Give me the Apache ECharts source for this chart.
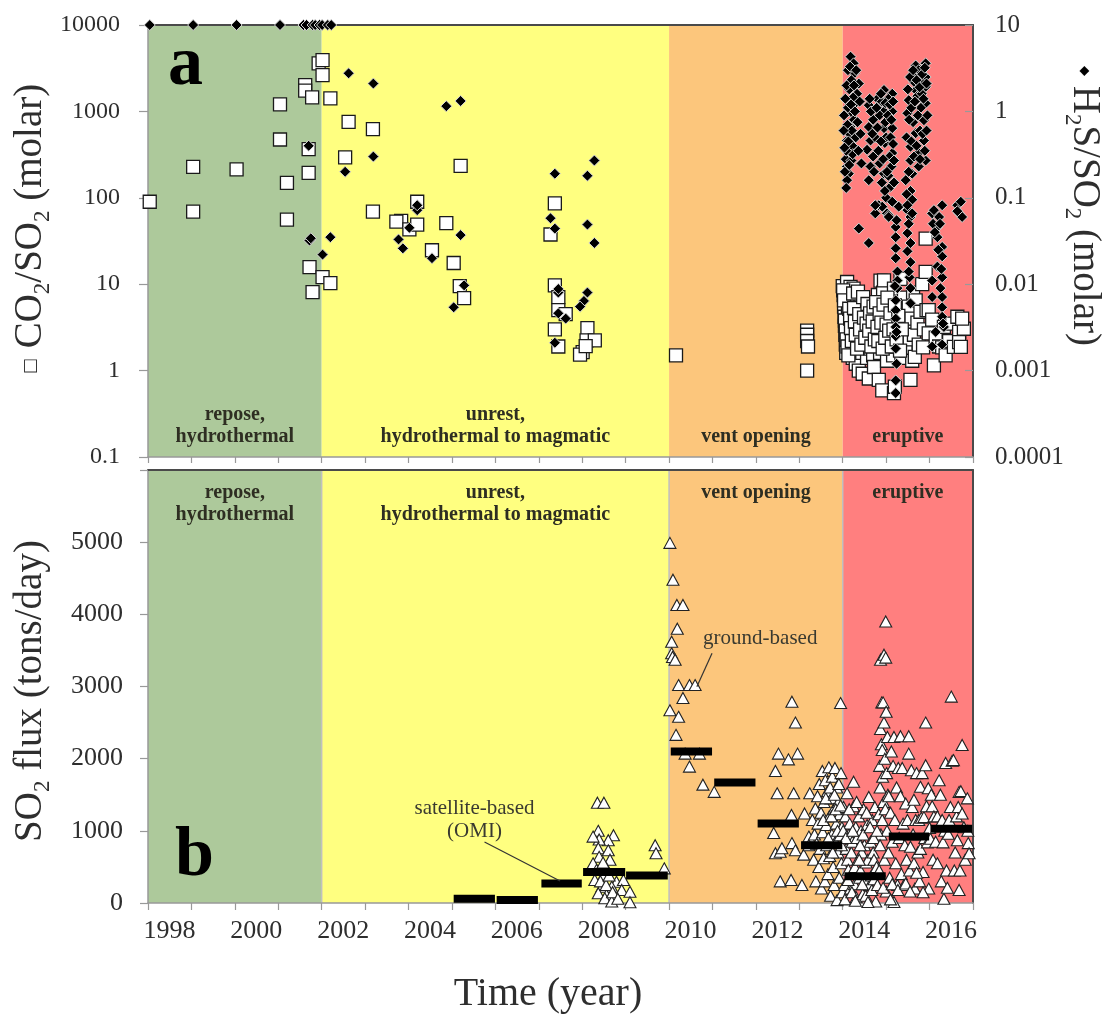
<!DOCTYPE html>
<html><head><meta charset="utf-8">
<script src="https://cdn.jsdelivr.net/npm/echarts/dist/echarts.min.js"></script>
<style>html,body{margin:0;padding:0;background:#fff}#c{width:1110px;height:1015px}</style>
</head><body><div id="c"></div>
<script>
// ---------------- DATA ----------------
const phaseStart = [1998, 2002, 2010, 2014];
const phaseEnd   = [2002, 2010, 2014, 2017];
const phaseNames = ['repose,\nhydrothermal', 'unrest,\nhydrothermal to magmatic', 'vent opening', 'eruptive'];

const yearTicks = [1998, 2000, 2002, 2004, 2006, 2008, 2010, 2012, 2014, 2016];

// CO2/SO2 (molar), squares, left log axis
const co2so2 = [
 [1998.04,90],[1999.04,228],[1999.04,69],[2000.04,213],[2001.04,1205],[2001.04,473],[2001.20,149],[2001.20,56],
 [2001.62,2018],[2001.62,1735],[2001.78,1452],[2001.70,366],[2001.70,194],[2001.72,15.8],[2001.79,8.1],
 [2001.93,3600],[2002.02,3930],[2002.02,2630],[2002.02,12.1],[2002.20,10.3],[2002.20,1413],[2002.62,757],[2002.54,293],
 [2003.18,623],[2003.18,69],[2005.20,234],[2004.20,90],[2003.83,54],[2003.72,53],[2004.02,43],[2004.20,49],[2004.87,51],
 [2004.54,24.7],[2005.04,17.6],[2005.18,9.5],[2005.28,6.9],[2007.37,86],[2007.27,37.6],[2007.37,9.7],[2007.45,7.1],
 [2007.45,5.0],[2007.62,4.5],[2007.37,3.0],[2007.45,1.9],[2008.12,3.1],[2008.10,2.24],[2008.29,2.24],[2008.01,1.64],
 [2007.95,1.53],[2008.08,1.92],[2010.16,1.5],[2013.18,2.9],[2013.18,2.6],[2013.18,2.2],[2013.20,1.9],[2013.18,1.0],
 [2014.00,9.5],[2014.02,7.5],[2014.03,5.5],[2014.04,4.2],[2014.05,3.3],[2014.06,2.6],[2014.07,2.0],[2014.08,1.6],
 [2014.10,10.6],[2014.11,6.8],[2014.12,4.8],[2014.13,3.6],[2014.14,2.8],[2014.15,2.2],[2014.16,1.7],[2014.18,9.3],
 [2014.19,5.9],[2014.20,3.9],[2014.21,2.5],[2014.22,1.9],[2014.23,1.4],[2014.25,8.9],[2014.26,6.2],[2014.27,4.4],
 [2014.28,3.0],[2014.29,2.1],[2014.30,1.2],[2014.32,7.0],[2014.33,5.0],[2014.34,3.4],[2014.35,2.4],[2014.36,1.7],
 [2014.37,1.0],[2014.41,6.5],[2014.42,4.6],[2014.43,3.2],[2014.44,2.3],[2014.45,1.6],[2014.46,0.92],[2014.50,5.6],
 [2014.51,3.8],[2014.52,2.7],[2014.53,1.9],[2014.56,1.4],[2014.58,4.8],[2014.60,2.3],[2014.60,0.81],[2014.62,3.3],
 [2014.64,1.8],[2014.66,6.0],[2014.68,2.6],[2014.70,1.5],[2014.72,1.1],[2014.73,4.0],[2014.75,4.2],[2014.77,2.9],
 [2014.79,2.0],[2014.81,7.5],[2014.83,0.78],[2014.84,3.5],[2014.86,1.6],[2014.87,11],[2014.88,5.2],[2014.90,2.4],
 [2014.91,0.59],[2014.93,8.0],[2014.95,11.1],[2014.95,2.0],[2014.97,3.0],[2015.00,4.5],[2015.02,1.3],[2015.04,2.6],
 [2015.06,6.5],[2015.08,1.8],[2015.12,3.8],[2015.14,2.2],[2015.16,1.5],[2015.18,8.9],[2015.18,0.55],[2015.20,0.65],
 [2015.21,4.8],[2015.23,2.7],[2015.25,1.9],[2015.27,6.0],[2015.29,3.3],[2015.31,2.1],[2015.33,11.5],[2015.35,1.4],
 [2015.37,4.2],[2015.39,2.5],[2015.41,7.0],[2015.43,3.2],[2015.45,1.7],[2015.49,3.2],[2015.52,5.5],[2015.54,2.3],
 [2015.56,0.78],[2015.58,4.0],[2015.60,1.3],[2015.62,8.0],[2015.64,2.6],[2015.66,1.44],[2015.68,6.5],[2015.72,3.6],
 [2015.75,2.0],[2015.79,4.8],[2015.83,10.0],[2015.85,1.86],[2015.87,3.0],[2015.91,13.9],[2015.91,33.7],[2015.93,5.0],
 [2015.98,2.7],[2015.98,5.0],[2016.06,3.9],[2016.10,1.15],[2016.14,2.4],[2016.22,1.9],[2016.29,1.86],[2016.33,3.2],
 [2016.37,1.5],[2016.45,2.2],[2016.52,3.5],[2016.56,1.88],[2016.64,4.2],[2016.68,2.8],[2016.68,2.14],[2016.72,1.88],
 [2016.79,3.05],[2016.75,4.0],
 [2014.01,8.5],[2014.03,6.5],[2014.05,3.8],[2014.07,2.9],[2014.09,2.3],[2014.11,1.9],[2014.13,1.5],[2014.15,5.2],
 [2014.17,4.0],[2014.19,3.1],[2014.21,2.2],[2014.24,7.8],[2014.26,5.3],[2014.28,3.7],[2014.30,2.6],[2014.33,1.8],
 [2014.35,8.2],[2014.38,4.5],[2014.40,3.0],[2014.43,2.0],[2014.47,7.1],[2014.49,4.1],[2014.52,2.4],[2014.55,3.5],
 [2014.57,5.9],[2014.61,2.9],[2014.63,4.6],[2014.66,1.9],[2014.69,3.7],[2014.71,5.5],[2014.74,2.3],[2014.77,6.2],
 [2014.80,3.2],[2014.82,2.2],[2014.85,4.6],[2014.89,3.6],[2014.92,1.8],[2014.94,5.8],[2014.98,2.4],[2015.01,3.4],
 [2015.03,7.0],[2015.07,2.9],[2015.10,4.6],[2015.13,1.9],[2015.17,3.0],[2015.20,5.7],[2015.24,2.3],[2015.28,4.3],
 [2015.32,1.7],[2015.36,3.0]
];

// H2S/SO2 (molar), diamonds, right log axis
const h2sso2 = [
 [1998.04,10],[1999.04,10],[2000.04,10],[2001.04,10],[2001.58,10],[2001.65,10],[2001.79,10],[2001.85,10],[2001.95,10],
 [2002.01,10],[2002.14,10],[2002.22,10],
 [2001.70,0.40],[2001.72,0.032],[2001.75,0.034],[2002.02,0.022],[2002.20,0.035],[2002.62,2.76],[2002.54,0.20],
 [2003.19,2.1],[2003.19,0.30],[2004.87,1.15],[2005.20,1.32],[2004.20,0.072],[2004.20,0.082],[2004.02,0.045],
 [2003.77,0.033],[2003.87,0.026],[2004.54,0.020],[2005.20,0.037],[2005.28,0.0097],[2005.04,0.0054],[2007.37,0.19],
 [2008.12,0.18],[2008.28,0.27],[2007.27,0.058],[2007.37,0.044],[2008.12,0.049],[2008.28,0.030],[2007.45,0.008],
 [2007.45,0.0088],[2007.45,0.0046],[2007.62,0.004],[2007.37,0.0021],[2008.12,0.008],[2008.04,0.0064],[2007.95,0.0055],
 [2014.18,4.3],[2014.25,3.6],[2014.27,2.76],[2014.37,2.1],[2014.33,1.6],[2014.29,1.24],[2014.22,0.95],[2014.18,0.66],
 [2014.10,0.46],[2014.14,0.33],[2014.10,0.23],[2014.14,0.19],[2014.10,0.16],[2014.12,3.0],[2014.20,2.3],[2014.15,1.8],
 [2014.24,1.45],[2014.12,1.1],[2014.26,0.8],[2014.16,0.55],[2014.22,0.4],[2014.07,0.28],[2014.20,0.27],[2014.05,0.2],
 [2014.08,0.13],[2014.37,0.044],[2014.60,0.030],
 [2014.60,1.18],[2014.95,1.77],[2015.14,1.6],[2014.95,1.0],[2015.14,1.0],[2014.95,0.64],[2015.14,0.64],[2014.97,0.43],
 [2015.14,0.33],[2015.12,0.23],[2014.95,0.19],[2015.10,0.134],[2015.00,0.10],[2014.83,0.082],[2015.02,0.066],
 [2014.75,0.066],[2014.60,0.66],[2014.64,0.46],[2014.56,0.36],[2014.64,0.23],[2014.60,0.16],[2014.91,0.079],
 [2015.06,0.063],[2014.75,0.082],[2015.06,0.060],[2015.29,0.079],[2014.80,1.4],[2014.85,0.9],[2014.90,1.3],
 [2015.05,1.4],[2015.00,0.5],[2015.08,0.3],[2014.70,0.8],[2014.75,0.5],[2014.70,0.3],[2014.85,0.25],[2014.90,0.15],
 [2015.05,0.18],[2014.65,1.0],
 [2015.22,0.046],[2015.22,0.035],[2015.22,0.026],[2015.22,0.020],[2015.26,0.014],[2015.26,0.011],[2015.26,0.009],
 [2015.22,0.0065],[2015.22,0.005],[2015.22,0.004],[2015.22,0.0032],[2015.22,0.0025],[2015.22,0.0018],[2015.24,0.0012],
 [2015.22,0.00077],[2015.22,0.00055],
 [2015.68,3.4],[2015.91,3.6],[2015.68,2.75],[2015.91,2.5],[2015.68,1.77],[2015.91,1.93],[2015.52,1.35],[2015.91,1.24],
 [2015.49,0.95],[2015.87,0.79],[2015.68,0.56],[2015.87,0.46],[2015.56,0.39],[2015.75,0.33],[2015.56,0.27],[2015.75,0.23],
 [2015.91,0.27],[2015.60,0.19],[2015.45,0.16],[2015.56,0.12],[2015.60,0.095],[2015.49,0.072],[2015.56,0.060],
 [2015.75,3.0],[2015.80,2.2],[2015.72,1.5],[2015.80,1.1],[2015.62,0.75],[2015.78,0.6],[2015.82,1.6],[2015.64,2.2],
 [2015.49,0.082],[2015.60,0.066],[2015.49,0.039],[2015.56,0.030],[2015.49,0.024],[2015.56,0.018],[2015.56,0.006],
 [2016.06,0.066],[2016.18,0.046],[2016.18,0.035],[2016.29,0.027],[2016.29,0.021],[2016.18,0.016],[2016.29,0.012],
 [2016.06,0.011],[2016.06,0.0071],[2016.29,0.0071],[2016.29,0.0054],[2016.29,0.0042],[2016.33,0.0032],[2016.06,0.0019],
 [2016.29,0.0020],[2016.29,0.082],[2016.10,0.072],[2016.22,0.06],[2016.14,0.0028],
 [2016.64,0.082],[2016.68,0.066],[2016.72,0.09],[2016.75,0.06],[2016.64,0.07],
 [2014.03,0.9],[2014.06,1.4],[2014.09,2.0],[2014.11,0.7],[2014.13,0.45],[2014.17,3.3],[2014.19,1.2],[2014.21,0.6],
 [2014.23,0.32],[2014.26,2.0],[2014.28,1.0],[2014.30,0.5],[2014.31,3.0],[2014.34,0.75],[2014.36,0.35],[2014.39,1.3],
 [2014.41,0.55],[2014.43,0.25],[2014.08,0.35],[2014.15,0.24],[2014.02,0.6],[2014.04,0.38],
 [2014.62,1.4],[2014.68,0.55],[2014.72,0.2],[2014.78,1.1],[2014.80,0.65],[2014.82,0.35],[2014.88,1.6],[2014.88,0.45],
 [2014.93,0.28],[2014.98,1.25],[2014.98,0.75],[2015.02,0.2],[2015.04,0.9],[2015.08,1.2],[2015.10,0.5],[2015.12,0.8],
 [2015.16,1.3],[2015.16,0.42],[2015.18,0.27],[2015.18,0.15],[2014.97,0.12],[2015.14,0.09],
 [2015.47,0.5],[2015.50,1.8],[2015.53,0.8],[2015.55,2.5],[2015.58,1.1],[2015.58,0.45],[2015.62,3.0],[2015.64,0.3],
 [2015.66,1.3],[2015.70,2.3],[2015.70,0.4],[2015.73,0.9],[2015.77,1.9],[2015.78,0.28],[2015.83,2.7],[2015.84,0.55],
 [2015.86,1.4],[2015.89,3.2],[2015.89,0.35],[2015.93,0.6],[2015.93,2.1],[2015.95,0.9],[2015.52,0.2],[2015.47,0.11],
 [2015.52,0.05],[2015.54,0.012],[2015.56,0.009],[2015.52,0.014],[2016.08,0.05],[2016.20,0.025],[2016.25,0.009],
 [2016.31,0.0035],[2016.27,0.015],[2016.12,0.04],[2016.24,0.05],[2015.24,0.0028],[2015.20,0.0095],[2015.24,0.055]
];

// SO2 flux, ground-based (tons/day), triangles
const so2Ground = [
 [2008.35,1390],[2008.50,1390],[2008.37,1000],[2008.72,940],[2008.60,870],[2008.39,880],[2008.25,920],[2008.37,760],
 [2008.60,730],[2008.39,640],[2008.64,600],[2008.25,550],[2008.56,480],[2008.33,460],[2008.49,390],[2008.29,320],
 [2008.79,295],[2008.95,320],[2008.45,225],[2008.68,225],[2008.91,180],[2009.10,155],[2008.37,135],[2008.56,110],
 [2008.52,65],[2008.75,90],[2008.68,20],[2009.10,10],[2008.42,300],[2008.48,560],[2008.55,250],[2008.62,380],
 [2008.70,150],[2008.82,60],[2009.68,800],[2009.70,690],[2009.89,480],
 [2010.02,4990],[2010.09,4480],[2010.18,4130],[2010.32,4130],[2010.19,3800],[2010.06,3620],[2010.06,3460],
 [2010.08,3410],[2010.14,3370],[2010.22,3020],[2010.47,3020],[2010.60,3020],[2010.32,2840],[2010.02,2670],
 [2010.22,2580],[2010.16,2330],[2010.37,2070],[2010.70,2070],[2010.47,1890],[2010.78,1640],[2011.04,1540],
 [2012.83,2790],[2013.95,2770],[2012.91,2500],[2012.52,2070],[2012.96,2070],[2012.75,1990],[2012.45,1830],
 [2012.49,1520],[2012.87,1520],[2013.24,1520],[2012.41,970],[2012.82,1220],[2013.12,1240],[2012.45,690],
 [2012.83,830],[2012.56,710],[2012.91,730],[2013.22,920],[2013.10,670],[2012.56,300],[2012.81,320],[2013.06,250],
 [2012.60,760],[2013.22,800],
 [2013.30,1150],[2013.33,600],[2013.35,950],[2013.37,1310],[2013.38,300],[2013.40,820],[2013.42,1480],[2013.43,1100],
 [2013.45,500],[2013.46,1650],[2013.48,750],[2013.50,1250],[2013.51,200],[2013.53,1830],[2013.54,980],[2013.56,620],
 [2013.57,1400],[2013.59,300],[2013.60,1700],[2013.62,1080],[2013.63,800],[2013.65,1550],[2013.66,400],[2013.68,1880],
 [2013.69,1200],[2013.70,650],[2013.72,100],[2013.73,1450],[2013.75,950],[2013.76,1750],[2013.78,500],[2013.79,1300],
 [2013.80,250],[2013.82,1870],[2013.83,850],[2013.85,1100],[2013.86,1600],[2013.87,40],[2013.89,700],[2013.90,1400],
 [2013.92,350],[2013.93,1230],[2013.94,940],[2013.96,1800],[2013.97,550],[2013.98,1050],[2013.99,150],
 [2014.02,1330],[2014.04,250],[2014.06,1200],[2014.08,750],[2014.10,1520],[2014.11,600],[2014.13,460],[2014.14,950],
 [2014.16,1100],[2014.18,200],[2014.20,700],[2014.22,850],[2014.25,1680],[2014.25,1340],[2014.27,260],[2014.28,500],
 [2014.30,1050],[2014.31,80],[2014.33,900],[2014.35,600],[2014.37,1200],[2014.39,350],[2014.41,450],[2014.42,1000],
 [2014.44,700],[2014.46,120],[2014.48,1300],[2014.50,800],[2014.52,300],[2014.54,560],[2014.56,1080],[2014.58,600],
 [2014.60,1470],[2014.62,250],[2014.64,850],[2014.66,380],[2014.68,1150],[2014.70,700],[2014.72,600],[2014.74,1330],
 [2014.76,20],[2014.78,500],
 [2014.83,1230],[2014.85,1900],[2014.86,1600],[2014.87,2410],[2014.87,3370],[2014.88,950],[2014.89,2200],[2014.90,2780],
 [2014.91,2120],[2014.91,1150],[2014.92,1750],[2014.93,2780],[2014.94,1400],[2014.95,2500],[2014.95,3440],[2014.96,600],
 [2014.97,2000],[2014.98,1300],[2014.99,3900],[2014.99,3400],[2015.00,2650],[2015.00,160],[2015.01,1800],[2015.02,1000],
 [2015.03,2300],[2015.04,1500],[2015.05,700],
 [2015.06,1480],[2015.08,350],[2015.10,1250],[2015.12,2100],[2015.14,850],[2015.16,1900],[2015.18,2300],[2015.18,14],
 [2015.20,1150],[2015.22,550],[2015.24,1600],[2015.26,250],[2015.28,1870],[2015.30,900],[2015.33,2310],[2015.33,1480],
 [2015.35,400],[2015.37,1870],[2015.39,1100],[2015.41,250],[2015.43,800],[2015.45,1380],[2015.47,600],[2015.49,1150],
 [2015.52,2310],[2015.52,2070],[2015.54,450],[2015.56,780],[2015.58,1840],[2015.60,1330],[2015.62,950],[2015.64,1430],
 [2015.64,550],[2015.66,200],[2015.68,1150],[2015.70,1800],[2015.73,700],[2015.75,1150],[2015.77,300],[2015.79,1610],
 [2015.79,750],[2015.81,1180],[2015.83,1800],[2015.85,430],[2015.87,1190],[2015.89,900],[2015.91,2500],[2015.91,1910],
 [2015.93,1340],[2015.95,840],[2015.97,1590],[2015.98,200],[2016.00,1040],
 [2016.02,890],[2016.04,1500],[2016.06,1340],[2016.08,600],[2016.10,1200],[2016.14,850],[2016.18,550],[2016.18,1200],
 [2016.22,1700],[2016.25,1500],[2016.27,300],[2016.29,1150],[2016.31,840],[2016.33,60],[2016.35,1000],[2016.37,1940],
 [2016.39,450],[2016.41,210],[2016.43,960],[2016.45,1150],[2016.48,1330],[2016.50,2860],[2016.52,1970],[2016.55,1980],
 [2016.57,450],[2016.59,700],[2016.62,1200],[2016.64,870],[2016.66,1330],[2016.68,1540],[2016.68,180],[2016.70,450],
 [2016.72,1550],[2016.75,2190],[2016.75,1240],[2016.79,1050],[2016.82,600],[2016.87,1450],[2016.89,830],[2016.91,690],
 [2016.88,1000],
 [2014.05,50],[2014.12,320],[2014.21,150],[2014.29,30],[2014.38,600],[2014.45,260],[2014.53,100],[2014.58,15],
 [2014.67,180],[2014.72,330],[2014.80,250],[2014.84,450],[2014.93,210],[2015.10,50],[2015.14,260],[2015.27,180],
 [2015.45,270],[2015.55,160],[2015.70,420],[2015.85,150],
 [2013.55,1150],[2013.61,1450],[2013.67,900],[2013.71,1600],[2013.74,1200],[2013.77,700],[2013.81,1500],[2013.84,1300],
 [2013.88,1000],[2013.91,1650],[2013.95,1350],[2013.97,800],[2014.01,1000],[2014.07,900],[2014.15,1300],[2014.23,1000],
 [2014.32,1400],[2014.40,800],[2014.47,950],[2014.55,1250],[2014.63,1050],[2014.71,900],[2014.79,1000],[2014.86,800]
];

// SO2 flux, satellite-based OMI yearly means: [start year, end year, tons/day]
const so2Omi = [
 [2005.04,2005.99,60],[2006.03,2006.98,40],[2007.06,2007.99,270],[2008.02,2008.99,430],[2009.01,2009.97,380],
 [2010.04,2010.99,2100],[2011.04,2011.99,1670],[2012.04,2012.99,1100],[2013.04,2013.99,800],[2014.04,2014.99,370],
 [2015.06,2015.99,920],[2016.02,2016.98,1030]
];

// annotation anchors (data units, bottom panel)
const noteOmi = {text: 'satellite-based\n(OMI)', at: [2005.52, 1150], from: [2005.75, 845], to: [2007.49, 305]};
const noteGround = {text: 'ground-based', at: [2012.10, 3672], from: [2010.99, 3460], to: [2010.64, 2997]};

// ---------------- STYLE ----------------
const SERIF = '"Liberation Serif","Times New Roman",serif';
const phaseColors = ['#adc99b', '#ffff80', '#fcc67c', '#ff7f7f'];
const TXT = '#2e2e2e';

function logLabel(v) {
  const e = Math.round(Math.log10(v));
  return e >= 0 ? String(Math.round(Math.pow(10, e))) : Math.pow(10, e).toFixed(-e);
}

function bandSeries(xi, yi, labelAtTop) {
  return {
    type: 'custom', xAxisIndex: xi, yAxisIndex: yi, z: 1, silent: true,
    data: phaseStart.map((s, i) => [s, phaseEnd[i], i]),
    encode: {x: [0, 1]},
    renderItem: function (params, api) {
      const cs = params.coordSys;
      const x0 = api.coord([api.value(0), yi === 2 ? 0 : 1])[0];
      const x1 = api.coord([api.value(1), yi === 2 ? 0 : 1])[0];
      const i = api.value(2);
      const children = [
        {type: 'rect', shape: {x: x0, y: cs.y, width: x1 - x0, height: cs.height}, style: {fill: phaseColors[i]}},
        {type: 'text', style: {text: phaseNames[i], x: (x0 + x1) / 2,
          y: labelAtTop ? cs.y + 12 : cs.y + cs.height - 9,
          align: 'center', verticalAlign: labelAtTop ? 'top' : 'bottom',
          fontFamily: SERIF, fontWeight: 'bold', fontSize: 20, lineHeight: 22, fill: '#2e2e22'}}
      ];
      if (labelAtTop && i > 0) {
        children.push({type: 'line', shape: {x1: x0, y1: cs.y, x2: x0, y2: cs.y + cs.height},
          style: {stroke: '#c0c0c0', lineWidth: 1.5}});
      }
      return {type: 'group', children: children};
    }
  };
}

const frameAxis = (grid, pos) => ({
  gridIndex: grid, type: 'value', position: pos, min: 0, max: 1, z: 3,
  axisLine: {show: true, onZero: false, lineStyle: {color: '#4a4a4a', width: 2}},
  axisTick: {show: false}, axisLabel: {show: false}, splitLine: {show: false}
});

const option = {
  animation: false,
  backgroundColor: '#fff',
  grid: [
    {left: 148, top: 25, width: 825, height: 432, outerBoundsMode: 'none', containLabel: false},
    {left: 148, top: 470, width: 825, height: 433, outerBoundsMode: 'none', containLabel: false}
  ],
  xAxis: [
    {gridIndex: 0, type: 'value', min: 1998, max: 2017, interval: 1, z: 3,
     axisLine: {show: true, onZero: false, lineStyle: {color: '#999', width: 1.5}},
     axisTick: {show: true, length: 6, lineStyle: {color: '#999', width: 1.2}},
     axisLabel: {show: false}, splitLine: {show: false}},
    {gridIndex: 1, type: 'value', min: 1998, max: 2017, interval: 1, z: 3,
     axisLine: {show: true, onZero: false, lineStyle: {color: '#999', width: 1.5}},
     axisTick: {show: true, length: 7, lineStyle: {color: '#999', width: 1.2}},
     axisLabel: {show: true, interval: 0, hideOverlap: false, margin: 15,
       formatter: v => (yearTicks.indexOf(Math.round(v)) >= 0 ? String(Math.round(v)) : ''),
       padding: [0, 0, 0, 43], fontSize: 26, fontFamily: SERIF, color: TXT},
     splitLine: {show: false}},
    frameAxis(0, 'top'),
    frameAxis(1, 'top')
  ],
  yAxis: [
    {gridIndex: 0, type: 'log', logBase: 10, min: 0.1, max: 10000, position: 'left', z: 3,
     axisLine: {show: true, onZero: false, lineStyle: {color: '#999', width: 1.5}},
     axisTick: {show: true, length: 9, lineStyle: {color: '#999', width: 1.2}},
     axisLabel: {formatter: logLabel, fontSize: 24, fontFamily: SERIF, color: TXT, margin: 28},
     splitLine: {show: false}, minorTick: {show: false}},
    {gridIndex: 0, type: 'log', logBase: 10, min: 0.0001, max: 10, position: 'right', z: 3,
     axisLine: {show: true, onZero: false, lineStyle: {color: '#4a4a4a', width: 2}},
     axisTick: {show: true, inside: true, length: 8, lineStyle: {color: '#999', width: 1.2}},
     axisLabel: {formatter: logLabel, fontSize: 25, fontFamily: SERIF, color: TXT, margin: 22},
     splitLine: {show: false}},
    {gridIndex: 1, type: 'value', min: 0, max: 6000, interval: 1000, position: 'left', z: 3,
     axisLine: {show: true, onZero: false, lineStyle: {color: '#999', width: 1.5}},
     axisTick: {show: true, length: 8, lineStyle: {color: '#999', width: 1.2}},
     axisLabel: {formatter: v => (v >= 6000 ? '' : String(v)), fontSize: 26, fontFamily: SERIF, color: TXT, margin: 25},
     splitLine: {show: false}},
    frameAxis(1, 'right')
  ],
  series: [
    bandSeries(0, 0, false),
    bandSeries(1, 2, true),
    {type: 'scatter', name: 'CO2/SO2', xAxisIndex: 0, yAxisIndex: 0, z: 4, clip: false,
     symbol: 'rect', symbolSize: 13, data: co2so2,
     itemStyle: {color: '#fff', borderColor: '#1a1a1a', borderWidth: 1.3, opacity: 1}},
    {type: 'scatter', name: 'H2S/SO2', xAxisIndex: 0, yAxisIndex: 1, z: 5, clip: false,
     symbol: 'diamond', symbolSize: 11, data: h2sso2,
     itemStyle: {color: '#000', borderColor: '#d8d8d8', borderWidth: 1, opacity: 1}},
    {type: 'scatter', name: 'ground-based', xAxisIndex: 1, yAxisIndex: 2, z: 4, clip: false,
     symbol: 'triangle', symbolSize: [12, 11], data: so2Ground,
     itemStyle: {color: '#fff', borderColor: '#222', borderWidth: 1.1, opacity: 1}},
    {type: 'custom', name: 'OMI', xAxisIndex: 1, yAxisIndex: 2, z: 6,
     data: so2Omi, encode: {x: [0, 1], y: 2},
     renderItem: function (params, api) {
       const a = api.coord([api.value(0), api.value(2)]);
       const b = api.coord([api.value(1), api.value(2)]);
       return {type: 'line', shape: {x1: a[0], y1: a[1], x2: b[0], y2: b[1]},
               style: {stroke: '#000', lineWidth: 8}};
     }}
  ]
};

const chart = echarts.init(document.getElementById('c'), null, {renderer: 'canvas'});
chart.setOption(option);

const P = (pt) => chart.convertToPixel({xAxisIndex: 1, yAxisIndex: 2}, pt);
const pOmi = P(noteOmi.at), pOmiA = P(noteOmi.from), pOmiB = P(noteOmi.to);
const pGr = P(noteGround.at), pGrA = P(noteGround.from), pGrB = P(noteGround.to);

const T = {fontFamily: SERIF, fontSize: 39, fill: TXT, lineHeight: 46, verticalAlign: 'middle'};
const S = {fontFamily: SERIF, fontSize: 23, fill: TXT, lineHeight: 23, verticalAlign: 'bottom'};

chart.setOption({
  graphic: [
    {type: 'text', z: 100, x: 31, y: 229, rotation: Math.PI / 2,
     style: {text: '{q|□}{t| CO}{s|2}{t|/SO}{s|2}{t| (molar)}', align: 'center', verticalAlign: 'middle',
       rich: {t: T, s: S, q: {fontFamily: 'DejaVu Sans', fontSize: 17, fill: TXT, lineHeight: 46, verticalAlign: 'middle'}}}},
    {type: 'text', z: 100, x: 1084, y: 206, rotation: -Math.PI / 2,
     style: {text: '{q|◆}{t| H}{s|2}{t|S/SO}{s|2}{t| (molar)}', align: 'center', verticalAlign: 'middle',
       rich: {t: T, s: S, q: {fontFamily: 'DejaVu Sans', fontSize: 13, fill: '#000', lineHeight: 46, verticalAlign: 'middle'}}}},
    {type: 'text', z: 100, x: 31, y: 691, rotation: Math.PI / 2,
     style: {text: '{t|SO}{s|2}{t| flux (tons/day)}', align: 'center', verticalAlign: 'middle', rich: {t: T, s: S}}},
    {type: 'text', z: 100, x: 548, y: 994,
     style: {text: 'Time (year)', align: 'center', verticalAlign: 'middle', fontFamily: SERIF, fontSize: 40, fill: TXT}},
    {type: 'text', z: 100, x: 168, y: 66,
     style: {text: 'a', align: 'left', verticalAlign: 'middle', fontFamily: SERIF, fontWeight: 'bold', fontSize: 70, fill: '#000'}},
    {type: 'text', z: 100, x: 175, y: 857,
     style: {text: 'b', align: 'left', verticalAlign: 'middle', fontFamily: SERIF, fontWeight: 'bold', fontSize: 70, fill: '#000'}},
    {type: 'text', z: 100, x: pOmi[0], y: pOmi[1],
     style: {text: noteOmi.text, align: 'center', verticalAlign: 'middle', fontFamily: SERIF, fontSize: 21, lineHeight: 23, fill: '#3a3a30'}},
    {type: 'line', z: 100, shape: {x1: pOmiA[0], y1: pOmiA[1], x2: pOmiB[0], y2: pOmiB[1]}, style: {stroke: '#333', lineWidth: 1.2}},
    {type: 'text', z: 100, x: pGr[0], y: pGr[1],
     style: {text: noteGround.text, align: 'center', verticalAlign: 'middle', fontFamily: SERIF, fontSize: 21, fill: '#3a3a30'}},
    {type: 'line', z: 100, shape: {x1: pGrA[0], y1: pGrA[1], x2: pGrB[0], y2: pGrB[1]}, style: {stroke: '#333', lineWidth: 1.2}}
  ]
});
</script></body></html>
